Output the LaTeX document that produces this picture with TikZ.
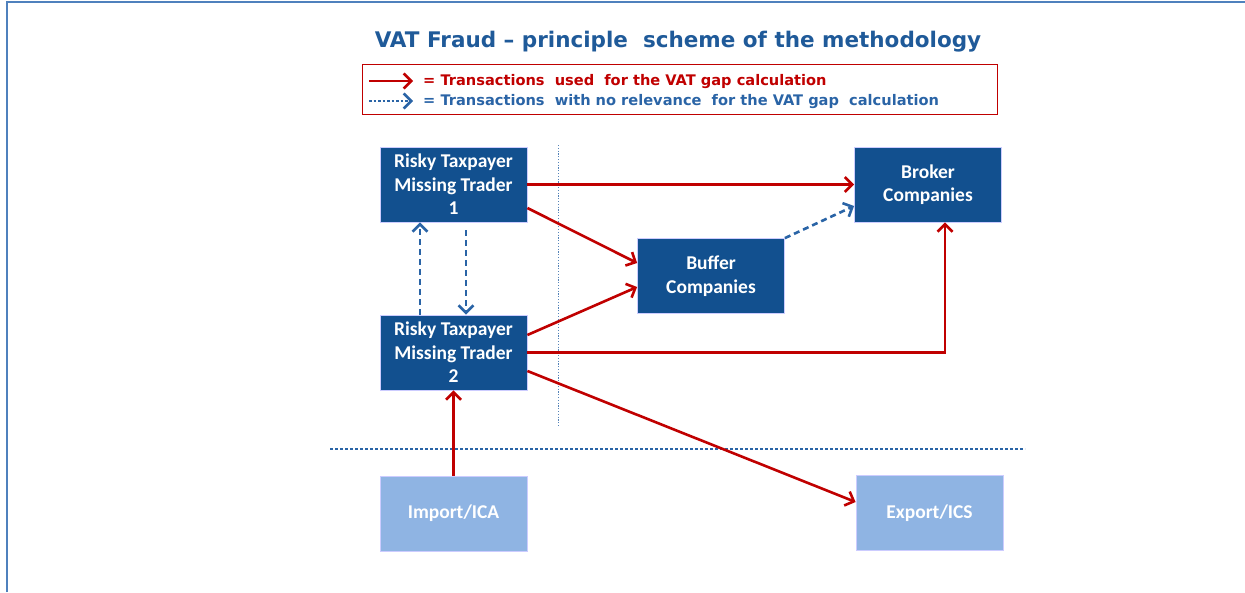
\documentclass[tikz,border=0pt]{standalone}
\usepackage{fontspec}
\setsansfont{Carlito}
\newfontfamily\headfont{DejaVu Sans}
\usetikzlibrary{arrows,arrows.meta,positioning}

\definecolor{boxblue}{HTML}{12508F}
\definecolor{lightbox}{HTML}{8FB4E3}
\definecolor{titleblue}{HTML}{1F5A99}
\definecolor{fraudred}{HTML}{C00000}
\definecolor{frameblue}{HTML}{4F81BD}
\definecolor{dashblue}{HTML}{2A64A6}

\begin{document}
\begin{tikzpicture}[x=1pt,y=-1pt,node distance=168pt,on grid,
       >={Straight Barb[length=7.5pt,width=15pt]}]
       \tikzstyle{trader}=[draw=blue!20,line width=0.8pt,fill=boxblue,text=white,
         font=\sffamily\bfseries\fontsize{19.5}{23.5}\selectfont,align=center,
         minimum width=147pt,minimum height=75pt,inner sep=0pt]
       \tikzstyle{border}=[trader,fill=lightbox]
       \tikzstyle{used}=[->,color=fraudred,line width=2.6pt]
       \tikzstyle{norel}=[->,color=dashblue,line width=2.6pt,dash pattern=on 6pt off 4pt]
       \tikzstyle{legendtext}=[anchor=west,inner sep=0pt,font=\headfont\bfseries\fontsize{14.6}{16}\selectfont]

       \useasboundingbox (0,0) rectangle (1245,592);
       \draw[frameblue,line width=2pt] (7,592) -- (7,2) -- (1245,2);

       % title and legend
       \node[text=titleblue,font=\headfont\bfseries\fontsize{21.5}{24}\selectfont] (title) at (678,42) {VAT Fraud – principle\ \ scheme of the methodology};
       \node[draw=fraudred,line width=1pt,minimum width=635pt,minimum height=50pt,inner sep=0pt] (legend) at (679.5,89) {};
       \coordinate (l_1a) at (369,81);
       \coordinate (l_1b) at (413,81);
       \coordinate (l_2a) at (369,101);
       \coordinate (l_2b) at (413,101);
       \draw[used] (l_1a) -- (l_1b);
       \draw[norel,dash pattern=on 2.5pt off 2pt] (l_2a) -- (l_2b);
       \node[legendtext,text=fraudred] (leg_1) at (423,82) {= Transactions\ \ used\ \ for the VAT gap calculation};
       \node[legendtext,text=dashblue] (leg_2) at (423,102) {= Transactions\ \ with no relevance\ \ for the VAT gap\ \ calculation};

       % separators
       \draw[dashblue!80,line width=0.8pt,dash pattern=on 1.2pt off 1.6pt] (558,145) -- (558,426);
       \draw[dashblue,line width=2.6pt,dash pattern=on 2.5pt off 2.5pt] (330,449) -- (1025,449);

       % boxes
       \node[trader] (mt_1) at (453.5,184.5) {Risky Taxpayer\\Missing Trader\\1};
       \node[trader] (mt_2) [below =of mt_1] {Risky Taxpayer\\Missing Trader\\2};
       \node[trader] (brk) at (928,184.5) {Broker\\Companies};
       \node[trader] (buf) at (711,276) {Buffer\\Companies};
       \node[border] (imp) at (453.5,513.5) {Import/ICA};
       \node[border] (exp) at (929.5,513) {Export/ICS};

       \path[used]
       (mt_1.east |- brk) edge (brk)
       (mt_1.east |- 0,208) edge (buf.west |- 0,263)
       (mt_2.east |- 0,335) edge (buf.west |- 0,287)
       (mt_2.east |- 0,371) edge (exp.west |- 0,502)
       (imp) edge (mt_2);
       \draw[used] (mt_2.east) -| (brk.south -| 945,0);

       \path[norel]
       (mt_2.north -| 420,0) edge (mt_1.south -| 420,0)
       (mt_1.south -| 466,0) ++(0,8) edge (mt_2.north -| 466,0)
       (buf.north east) edge (brk.west |- 0,206);
\end{tikzpicture}
\end{document}
